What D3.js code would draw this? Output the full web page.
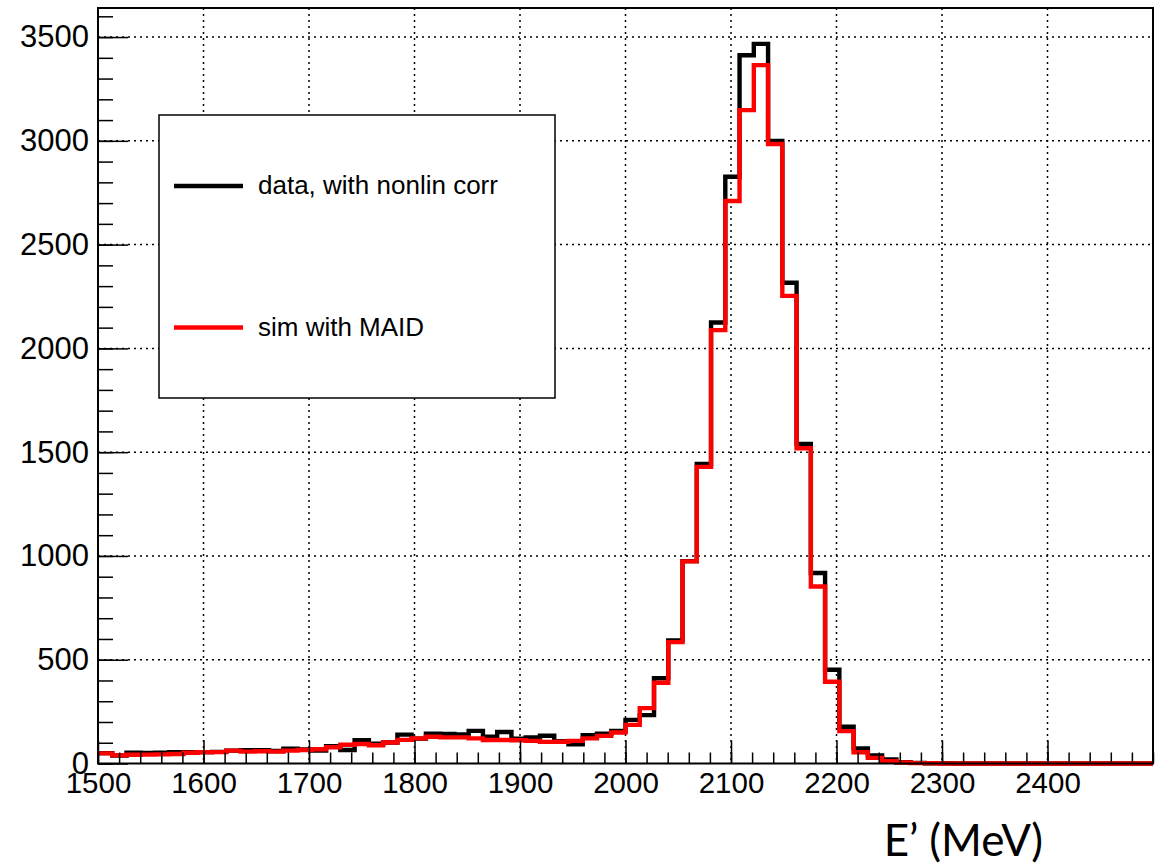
<!DOCTYPE html>
<meta charset="utf-8">
<style>
  body { margin: 0; background: #fff; }
</style>

<!-- Load d3.js -->
<script src="https://d3js.org/d3.v7.min.js"></script>

<!-- Create a div where the graph will take place -->
<div id="my_dataviz"></div>

<script>

// histogram binning : 74 bins from 1500 to 2500 MeV
var xMin = 1500, xMax = 2500, nBins = 74;

// bin contents
var dataCounts = [50, 38, 52, 51, 52, 54, 54, 55, 56, 62,
                  64, 64, 60, 71, 68, 62, 83, 65, 112, 95,
                  101, 139, 120, 144, 142, 140, 157, 129, 152, 120,
                  126, 134, 107, 92, 136, 143, 157, 210, 233, 411,
                  593, 975, 1443, 2125, 2827, 3412, 3467, 3000, 2316, 1539,
                  918, 452, 177, 72, 39, 19, 6, 3, 1, 1,
                  0, 0, 0, 0, 0, 0, 0, 0, 0, 0,
                  0, 0, 0, 0];
var simCounts = [49, 40, 42, 43, 44, 46, 52, 54, 55, 62,
                 57, 59, 57, 62, 65, 69, 78, 90, 94, 88,
                 101, 114, 121, 129, 126, 126, 121, 113, 113, 112,
                 109, 104, 105, 109, 121, 133, 149, 186, 267, 389,
                 585, 974, 1429, 2088, 2710, 3148, 3365, 2985, 2253, 1519,
                 853, 394, 156, 54, 27, 11, 5, 2, 1, 0,
                 0, 0, 0, 0, 0, 0, 0, 0, 0, 0,
                 0, 0, 0, 0];

var xMajorTicks = [1500, 1600, 1700, 1800, 1900, 2000, 2100, 2200, 2300, 2400];
var yMajorTicks = [0, 500, 1000, 1500, 2000, 2500, 3000, 3500];
var legendLabels = ["data, with nonlin corr", "sim with MAID"];
var xTitle = "E\u2019 (MeV)";

// set the dimensions and margins of the graph
var margin = {top: 8, right: 11, bottom: 104.5, left: 98},
    width = 1164 - margin.left - margin.right,
    height = 868 - margin.top - margin.bottom;

var root = d3.select("#my_dataviz")
  .append("svg")
    .attr("width", 1164)
    .attr("height", 868);

var svg = root.append("g")
    .attr("transform", "translate(" + margin.left + "," + margin.top + ")");

var x = d3.scaleLinear().domain([xMin, xMax]).range([0, width]);
var y = d3.scaleLinear().domain([0, 3640]).range([height, 0]);

// grid (dotted, only at the major ticks)
svg.append("g").selectAll("line")
  .data(xMajorTicks.slice(1))
  .enter().append("line")
    .attr("x1", function(d) { return x(d) }).attr("x2", function(d) { return x(d) })
    .attr("y1", 0).attr("y2", height)
    .attr("stroke", "black").attr("stroke-width", 1.5)
    .attr("stroke-dasharray", "2,4");
svg.append("g").selectAll("line")
  .data(yMajorTicks.slice(1))
  .enter().append("line")
    .attr("x1", 0).attr("x2", width)
    .attr("y1", function(d) { return y(d) }).attr("y2", function(d) { return y(d) })
    .attr("stroke", "black").attr("stroke-width", 1.5)
    .attr("stroke-dasharray", "2,4");

// step outline of a histogram
var binW = (xMax - xMin) / nBins;
function steps(counts) {
  var pts = counts.map(function(v, i) { return [xMin + i * binW, v] });
  pts.push([xMax, counts[counts.length - 1]]);
  return pts;
}
var line = d3.line()
  .x(function(d) { return x(d[0]) })
  .y(function(d) { return y(d[1]) })
  .curve(d3.curveStepAfter);

svg.append("path")
  .datum(steps(dataCounts))
  .attr("d", line)
  .attr("fill", "none").attr("stroke", "black").attr("stroke-width", 4.4);

svg.append("path")
  .datum(steps(simCounts))
  .attr("d", line)
  .attr("fill", "none").attr("stroke", "#ff0000").attr("stroke-width", 4.4);

// X axis, ticks drawn inside the frame
var xMinor = d3.range(xMin, xMax + 1, 20);
svg.append("g")
  .attr("transform", "translate(0," + height + ")")
  .call(d3.axisBottom(x).tickValues(xMinor).tickSize(-11).tickSizeOuter(0).tickFormat(""))
  .call(function(g) { g.select(".domain").remove() })
  .selectAll("line").attr("stroke-width", 1.5);
svg.append("g")
  .attr("transform", "translate(0," + height + ")")
  .attr("font-family", "'Liberation Sans', Arial, sans-serif")
  .call(d3.axisBottom(x).tickValues(xMajorTicks).tickSize(-23).tickSizeOuter(0)
          .tickPadding(9).tickFormat(d3.format("d")))
  .call(function(g) { g.select(".domain").remove() })
  .call(function(g) { g.selectAll("line").attr("stroke-width", 1.5) })
  .selectAll("text").attr("font-size", 29.5).attr("fill", "black");

// Y axis
var yMinor = d3.range(0, 3601, 100);
svg.append("g")
  .call(d3.axisLeft(y).tickValues(yMinor).tickSize(-15).tickSizeOuter(0).tickFormat(""))
  .call(function(g) { g.select(".domain").remove() })
  .selectAll("line").attr("stroke-width", 1.5);
svg.append("g")
  .attr("font-family", "'Liberation Sans', Arial, sans-serif")
  .call(d3.axisLeft(y).tickValues(yMajorTicks).tickSize(-30).tickSizeOuter(0)
          .tickPadding(9).tickFormat(d3.format("d")))
  .call(function(g) { g.select(".domain").remove() })
  .call(function(g) { g.selectAll("line").attr("stroke-width", 1.5) })
  .selectAll("text").attr("font-size", 31).attr("fill", "black");

// frame
svg.append("rect")
  .attr("x", 0).attr("y", 0).attr("width", width).attr("height", height)
  .attr("fill", "none").attr("stroke", "black").attr("stroke-width", 2);

// legend
var legend = root.append("g");
legend.append("rect")
  .attr("x", 159).attr("y", 115).attr("width", 396).attr("height", 283)
  .attr("fill", "white").attr("stroke", "black").attr("stroke-width", 1.5);
var legendColors = ["black", "#ff0000"];
var legendY = [186, 327.5];
legendLabels.forEach(function(lab, i) {
  legend.append("line")
    .attr("x1", 174).attr("x2", 243).attr("y1", legendY[i]).attr("y2", legendY[i])
    .attr("stroke", legendColors[i]).attr("stroke-width", 4.5);
  legend.append("text")
    .attr("x", 258).attr("y", legendY[i] + 8)
    .text(lab)
    .style("font-family", "'Liberation Sans', Arial, sans-serif")
    .style("font-size", "26px");
});

// x axis title
root.append("text")
  .attr("x", 1043).attr("y", 856)
  .attr("text-anchor", "end")
  .text(xTitle)
  .style("font-family", "Lato, 'Open Sans', sans-serif")
  .style("font-size", "44px");

</script>
